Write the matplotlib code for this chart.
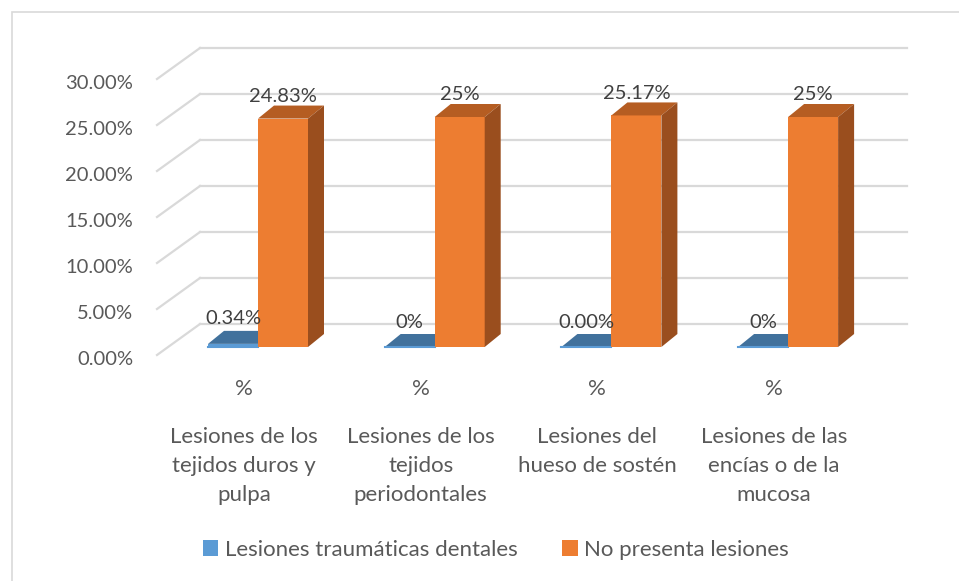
import matplotlib.pyplot as plt
from matplotlib.patches import Polygon, Rectangle, Patch

plt.rcParams['font.family'] = ['Lato', 'DejaVu Sans']

# data (percent)
categories = ['Lesiones de los\ntejidos duros y\npulpa',
              'Lesiones de los\ntejidos\nperiodontales',
              'Lesiones del\nhueso de sostén',
              'Lesiones de las\nencías o de la\nmucosa']
traumaticas = [0.34, 0.0, 0.0, 0.0]
no_presenta = [24.83, 25.0, 25.17, 25.0]
label_trauma = ['0.34%', '0%', '0.00%', '0%']
label_no = ['24.83%', '25%', '25.17%', '25%']
series_names = ['Lesiones traumáticas dentales', 'No presenta lesiones']
yticks = [0, 5, 10, 15, 20, 25, 30]

# layout: figure pixel -> data scale
W, H = 959, 581
px_unit = 176.7      # pixels per category
py_unit = 9.2        # pixels per percent
x0_px, y0_px = 258, 347
fs_num = 14.5
fs_txt = 16

fig = plt.figure(figsize=(W / 100, H / 100), dpi=100)
ax = fig.add_axes([0, 0, 1, 1])
ax.set_xlim(-x0_px / px_unit, (W - x0_px) / px_unit)
ax.set_ylim((y0_px - H) / py_unit, y0_px / py_unit)
ax.axis('off')

# frame around chart area
fig.patches.append(Rectangle((12 / W, -0.05), 1.2, 1 - 12 / H + 0.05,
                             transform=fig.transFigure, fill=False,
                             edgecolor='#d9d9d9', linewidth=1.2))

# 3D walls / gridlines
grid_c = '#d9d9d9'
x_front = (157 - x0_px) / px_unit
x_back = (200 - x0_px) / px_unit
x_right = (907 - x0_px) / px_unit
floor_dy = -8 / py_unit
wall_dy = 23 / py_unit
for v in yticks:
    ax.plot([x_back, x_right], [v + wall_dy, v + wall_dy], color=grid_c, lw=1.6, zorder=1)
    ax.plot([x_front, x_back], [v + floor_dy, v + wall_dy], color=grid_c, lw=1.6, zorder=1)
    ax.text((133 - x0_px) / px_unit, v + floor_dy - 0.5, f'{v:.2f}%', ha='right', va='center',
            fontsize=fs_num, color='#595959')

bw = 50 / px_unit
ddx = 16 / px_unit
ddy = 13 / py_unit


def bar3d(xl, h, front, top, side, z):
    xr = xl + bw
    ax.add_patch(Rectangle((xl, 0), bw, h, facecolor=front, edgecolor='none', zorder=z))
    ax.add_patch(Polygon([(xl, h), (xr, h), (xr + ddx, h + ddy), (xl + ddx, h + ddy)],
                         closed=True, facecolor=top, edgecolor='none', zorder=z))
    ax.add_patch(Polygon([(xr, 0), (xr + ddx, ddy), (xr + ddx, h + ddy), (xr, h)],
                         closed=True, facecolor=side, edgecolor='none', zorder=z))


for i in range(len(categories)):
    # blue bar (behind)
    hb = traumaticas[i]
    bar3d(i - bw, hb, '#5b9bd5', '#41719c', '#2e5f8a', 2)
    ax.plot([i - bw, i], [0, 0], color='#5b9bd5', lw=1.5, zorder=2.5)
    ax.text(i - bw / 2, hb + ddy + 1.3, label_trauma[i], ha='center', va='center',
            fontsize=fs_num, color='#404040', zorder=5)
    # orange bar
    ho = no_presenta[i]
    bar3d(i, ho, '#ed7d31', '#b55d22', '#9a4e1e', 3)
    ax.text(i + bw / 2, ho + ddy + 1.0, label_no[i], ha='center', va='center',
            fontsize=fs_num, color='#404040', zorder=5)
    # category labels
    cx = i - 14 / px_unit
    ax.text(cx, (y0_px - 389) / py_unit, '%', ha='center', va='center',
            fontsize=fs_txt, color='#595959')
    ax.text(cx, (y0_px - 427) / py_unit, categories[i], ha='center', va='top',
            fontsize=fs_txt, color='#595959', linespacing=1.55)

handles = [Patch(facecolor='#5b9bd5', edgecolor='none'),
           Patch(facecolor='#ed7d31', edgecolor='none')]
leg = fig.legend(handles, series_names, loc='center', ncol=2,
                 bbox_to_anchor=(496 / W, 1 - 550 / H), frameon=False,
                 fontsize=fs_txt, handlelength=0.7, handleheight=0.7,
                 handletextpad=0.3, columnspacing=2.0)
for t in leg.get_texts():
    t.set_color('#595959')

fig.savefig('out.png', dpi=100)
